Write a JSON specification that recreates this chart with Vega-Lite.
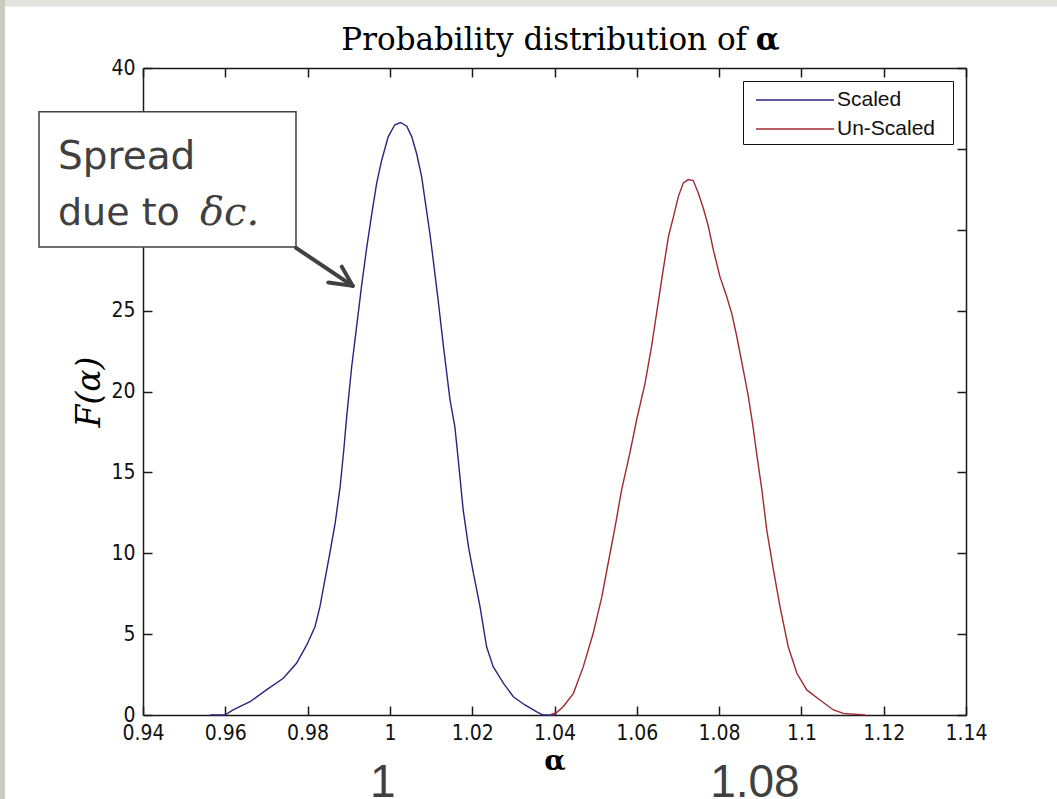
{
  "$schema": "https://vega.github.io/schema/vega-lite/v6.json",
  "width": 823,
  "height": 647,
  "autosize": {"type": "none"},
  "padding": {"left": 143, "top": 68, "right": 91, "bottom": 84},
  "background": "white",
  "config": {
    "view": {"stroke": null},
    "axis": {
      "grid": false,
      "domainColor": "#1a1a1a",
      "tickColor": "#1a1a1a",
      "domainWidth": 1.5,
      "tickWidth": 1.5,
      "tickSize": -9,
      "labelFont": "Liberation Sans Narrow, DejaVu Sans Condensed, Liberation Sans, sans-serif",
      "labelFontSize": 21,
      "labelColor": "#111111",
      "labelFlush": false,
      "labelOverlap": false,
      "zindex": 0
    }
  },
  "data": {"values": [{}]},
  "datasets": {
    "curves": [
      {"s": "Scaled", "a": 0.9563, "F": 0},
      {"s": "Scaled", "a": 0.9599, "F": 0},
      {"s": "Scaled", "a": 0.9619, "F": 0.31},
      {"s": "Scaled", "a": 0.966, "F": 0.82},
      {"s": "Scaled", "a": 0.970, "F": 1.55},
      {"s": "Scaled", "a": 0.9741, "F": 2.27},
      {"s": "Scaled", "a": 0.9773, "F": 3.2},
      {"s": "Scaled", "a": 0.9798, "F": 4.33},
      {"s": "Scaled", "a": 0.9818, "F": 5.46},
      {"s": "Scaled", "a": 0.983, "F": 6.7},
      {"s": "Scaled", "a": 0.9842, "F": 8.35},
      {"s": "Scaled", "a": 0.9854, "F": 10.0},
      {"s": "Scaled", "a": 0.9867, "F": 11.86},
      {"s": "Scaled", "a": 0.9879, "F": 14.1},
      {"s": "Scaled", "a": 0.9888, "F": 16.4},
      {"s": "Scaled", "a": 0.9895, "F": 18.45},
      {"s": "Scaled", "a": 0.9907, "F": 21.5},
      {"s": "Scaled", "a": 0.9919, "F": 24.0},
      {"s": "Scaled", "a": 0.9931, "F": 26.5},
      {"s": "Scaled", "a": 0.9944, "F": 28.96},
      {"s": "Scaled", "a": 0.9956, "F": 31.0},
      {"s": "Scaled", "a": 0.9968, "F": 32.9},
      {"s": "Scaled", "a": 0.998, "F": 34.3},
      {"s": "Scaled", "a": 0.9996, "F": 35.76},
      {"s": "Scaled", "a": 1.0012, "F": 36.49},
      {"s": "Scaled", "a": 1.0026, "F": 36.63},
      {"s": "Scaled", "a": 1.0041, "F": 36.4},
      {"s": "Scaled", "a": 1.0053, "F": 35.76},
      {"s": "Scaled", "a": 1.0065, "F": 34.7},
      {"s": "Scaled", "a": 1.0077, "F": 33.3},
      {"s": "Scaled", "a": 1.0089, "F": 31.2},
      {"s": "Scaled", "a": 1.0097, "F": 29.8},
      {"s": "Scaled", "a": 1.0102, "F": 28.8},
      {"s": "Scaled", "a": 1.0117, "F": 25.7},
      {"s": "Scaled", "a": 1.0131, "F": 22.6},
      {"s": "Scaled", "a": 1.0146, "F": 19.5},
      {"s": "Scaled", "a": 1.0158, "F": 17.8},
      {"s": "Scaled", "a": 1.0166, "F": 15.8},
      {"s": "Scaled", "a": 1.0178, "F": 12.7},
      {"s": "Scaled", "a": 1.0191, "F": 10.4},
      {"s": "Scaled", "a": 1.0203, "F": 8.76},
      {"s": "Scaled", "a": 1.0219, "F": 6.7},
      {"s": "Scaled", "a": 1.0235, "F": 4.22},
      {"s": "Scaled", "a": 1.0251, "F": 2.99},
      {"s": "Scaled", "a": 1.0276, "F": 1.96},
      {"s": "Scaled", "a": 1.030, "F": 1.13},
      {"s": "Scaled", "a": 1.0328, "F": 0.62},
      {"s": "Scaled", "a": 1.0357, "F": 0.2},
      {"s": "Scaled", "a": 1.0372, "F": 0},
      {"s": "Scaled", "a": 1.0405, "F": 0},
      {"s": "Un-Scaled", "a": 1.0388, "F": 0},
      {"s": "Un-Scaled", "a": 1.0405, "F": 0.15},
      {"s": "Un-Scaled", "a": 1.0421, "F": 0.51},
      {"s": "Un-Scaled", "a": 1.0446, "F": 1.34},
      {"s": "Un-Scaled", "a": 1.047, "F": 2.99},
      {"s": "Un-Scaled", "a": 1.0494, "F": 5.05},
      {"s": "Un-Scaled", "a": 1.0515, "F": 7.3},
      {"s": "Un-Scaled", "a": 1.0535, "F": 10.0},
      {"s": "Un-Scaled", "a": 1.0547, "F": 11.6},
      {"s": "Un-Scaled", "a": 1.0563, "F": 13.9},
      {"s": "Un-Scaled", "a": 1.0584, "F": 16.3},
      {"s": "Un-Scaled", "a": 1.06, "F": 18.3},
      {"s": "Un-Scaled", "a": 1.062, "F": 20.5},
      {"s": "Un-Scaled", "a": 1.0636, "F": 22.8},
      {"s": "Un-Scaled", "a": 1.0652, "F": 25.5},
      {"s": "Un-Scaled", "a": 1.0664, "F": 27.5},
      {"s": "Un-Scaled", "a": 1.0677, "F": 29.6},
      {"s": "Un-Scaled", "a": 1.0689, "F": 30.8},
      {"s": "Un-Scaled", "a": 1.0701, "F": 32.05},
      {"s": "Un-Scaled", "a": 1.0713, "F": 32.9},
      {"s": "Un-Scaled", "a": 1.0725, "F": 33.1},
      {"s": "Un-Scaled", "a": 1.0737, "F": 33.04},
      {"s": "Un-Scaled", "a": 1.0749, "F": 32.3},
      {"s": "Un-Scaled", "a": 1.0762, "F": 31.3},
      {"s": "Un-Scaled", "a": 1.0774, "F": 30.2},
      {"s": "Un-Scaled", "a": 1.0786, "F": 28.76},
      {"s": "Un-Scaled", "a": 1.0802, "F": 27.1},
      {"s": "Un-Scaled", "a": 1.0818, "F": 25.9},
      {"s": "Un-Scaled", "a": 1.0831, "F": 24.8},
      {"s": "Un-Scaled", "a": 1.0843, "F": 23.4},
      {"s": "Un-Scaled", "a": 1.0859, "F": 21.3},
      {"s": "Un-Scaled", "a": 1.0871, "F": 19.7},
      {"s": "Un-Scaled", "a": 1.0882, "F": 17.9},
      {"s": "Un-Scaled", "a": 1.0891, "F": 16.2},
      {"s": "Un-Scaled", "a": 1.0904, "F": 13.9},
      {"s": "Un-Scaled", "a": 1.0916, "F": 11.4},
      {"s": "Un-Scaled", "a": 1.0932, "F": 8.97},
      {"s": "Un-Scaled", "a": 1.0948, "F": 6.7},
      {"s": "Un-Scaled", "a": 1.0968, "F": 4.22},
      {"s": "Un-Scaled", "a": 1.0989, "F": 2.58},
      {"s": "Un-Scaled", "a": 1.1013, "F": 1.55},
      {"s": "Un-Scaled", "a": 1.1045, "F": 0.93},
      {"s": "Un-Scaled", "a": 1.1078, "F": 0.31},
      {"s": "Un-Scaled", "a": 1.1102, "F": 0.1},
      {"s": "Un-Scaled", "a": 1.1155, "F": 0}
    ]
  },
  "layer": [
    {
      "mark": {"type": "rect", "color": "#c9cac2"},
      "encoding": {
        "x": {"datum": 0.89, "type": "quantitative", "axis": null, "scale": {"domain": [0.94, 1.14], "nice": false}},
        "x2": {"datum": 0.90646},
        "y": {"datum": 44.3, "type": "quantitative", "axis": null, "scale": {"domain": [0, 40], "nice": false}},
        "y2": {"datum": -10}
      }
    },
    {
      "mark": {"type": "rect", "color": "#e3e3de"},
      "encoding": {
        "x": {"datum": 0.90646, "type": "quantitative", "axis": null, "scale": {"domain": [0.94, 1.14], "nice": false}},
        "x2": {"datum": 1.2},
        "y": {"datum": 44.3, "type": "quantitative", "axis": null, "scale": {"domain": [0, 40], "nice": false}},
        "y2": {"datum": 43.78}
      }
    },
    {
      "mark": {"type": "text", "text": "Probability distribution of", "align": "right", "baseline": "alphabetic", "font": "DejaVu Serif", "fontSize": 31, "color": "#000000"},
      "encoding": {
        "x": {"datum": 1.0868, "type": "quantitative", "axis": null, "scale": {"domain": [0.94, 1.14], "nice": false}},
        "y": {"datum": 41.11, "type": "quantitative", "axis": null, "scale": {"domain": [0, 40], "nice": false}}
      }
    },
    {
      "mark": {"type": "text", "text": "α", "align": "left", "baseline": "alphabetic", "font": "DejaVu Serif", "fontWeight": "bold", "fontSize": 31, "color": "#000000"},
      "encoding": {
        "x": {"datum": 1.0889, "type": "quantitative", "axis": null, "scale": {"domain": [0.94, 1.14], "nice": false}},
        "y": {"datum": 41.11, "type": "quantitative", "axis": null, "scale": {"domain": [0, 40], "nice": false}}
      }
    },
    {
      "data": {"name": "curves"},
      "mark": {"type": "line", "strokeWidth": 1.4, "clip": false},
      "encoding": {
        "x": {
          "field": "a", "type": "quantitative",
          "scale": {"domain": [0.94, 1.14], "nice": false, "zero": false},
          "axis": {
            "orient": "bottom",
            "values": [0.94, 0.96, 0.98, 1.0, 1.02, 1.04, 1.06, 1.08, 1.1, 1.12, 1.14],
            "format": ".3~g",
            "labelPadding": 16,
            "title": "α",
            "titleFont": "DejaVu Serif",
            "titleFontWeight": "bold",
            "titleFontSize": 28,
            "titleColor": "#000000",
            "titlePadding": 4
          }
        },
        "y": {
          "field": "F", "type": "quantitative",
          "scale": {"domain": [0, 40], "nice": false},
          "axis": {
            "orient": "left",
            "values": [0, 5, 10, 15, 20, 25, 30, 35, 40],
            "labelPadding": 17,
            "title": "F(α)",
            "titleFont": "DejaVu Serif",
            "titleFontStyle": "italic",
            "titleFontWeight": "normal",
            "titleFontSize": 33,
            "titleColor": "#000000",
            "titlePadding": 4
          }
        },
        "color": {
          "field": "s", "type": "nominal",
          "scale": {"domain": ["Scaled", "Un-Scaled"], "range": ["#26267e", "#a02a32"]},
          "legend": {
            "title": " ",
            "titleOrient": "right",
            "titlePadding": 13,
            "titleFontSize": 8,
            "orient": "top-right",
            "offset": 13,
            "fillColor": "white",
            "strokeColor": "#111111",
            "padding": 5,
            "rowPadding": 5,
            "symbolType": "M-3,0H3",
            "symbolSize": 676,
            "symbolStrokeWidth": 1.5,
            "symbolOffset": 33,
            "labelOffset": 28,
            "labelFont": "Liberation Sans",
            "labelFontSize": 21,
            "labelColor": "#111111"
          }
        }
      }
    },
    {
      "data": {"name": "curves"},
      "mark": {"type": "point", "opacity": 0, "size": 0},
      "encoding": {
        "x": {
          "field": "a", "type": "quantitative",
          "scale": {"domain": [0.94, 1.14], "nice": false, "zero": false},
          "axis": {"orient": "top", "values": [0.94, 0.96, 0.98, 1.0, 1.02, 1.04, 1.06, 1.08, 1.1, 1.12, 1.14], "labels": false, "title": null}
        },
        "y": {
          "field": "F", "type": "quantitative",
          "scale": {"domain": [0, 40], "nice": false},
          "axis": {"orient": "right", "values": [0, 5, 10, 15, 20, 25, 30, 35, 40], "labels": false, "title": null}
        }
      }
    },
    {
      "mark": {"type": "rect", "fill": "white", "stroke": "#404040", "strokeWidth": 1.5},
      "encoding": {
        "x": {"datum": 0.91473, "type": "quantitative", "axis": null, "scale": {"domain": [0.94, 1.14], "nice": false}},
        "x2": {"datum": 0.97718},
        "y": {"datum": 37.29, "type": "quantitative", "axis": null, "scale": {"domain": [0, 40], "nice": false}},
        "y2": {"datum": 28.94}
      }
    },
    {
      "mark": {"type": "text", "text": "Spread", "align": "left", "baseline": "alphabetic", "font": "DejaVu Sans", "fontSize": 39, "color": "#404040"},
      "encoding": {
        "x": {"datum": 0.91934, "type": "quantitative", "axis": null, "scale": {"domain": [0.94, 1.14], "nice": false}},
        "y": {"datum": 33.75, "type": "quantitative", "axis": null, "scale": {"domain": [0, 40], "nice": false}}
      }
    },
    {
      "mark": {"type": "text", "text": "due to", "align": "left", "baseline": "alphabetic", "font": "DejaVu Sans", "fontSize": 38, "color": "#404040"},
      "encoding": {
        "x": {"datum": 0.91934, "type": "quantitative", "axis": null, "scale": {"domain": [0.94, 1.14], "nice": false}},
        "y": {"datum": 30.3, "type": "quantitative", "axis": null, "scale": {"domain": [0, 40], "nice": false}}
      }
    },
    {
      "mark": {"type": "text", "text": "δc.", "align": "left", "baseline": "alphabetic", "font": "DejaVu Serif", "fontStyle": "italic", "fontSize": 40, "color": "#404040"},
      "encoding": {
        "x": {"datum": 0.95385, "type": "quantitative", "axis": null, "scale": {"domain": [0.94, 1.14], "nice": false}},
        "y": {"datum": 30.3, "type": "quantitative", "axis": null, "scale": {"domain": [0, 40], "nice": false}}
      }
    },
    {
      "mark": {"type": "rule", "color": "#404040", "strokeWidth": 4, "strokeCap": "round"},
      "encoding": {
        "x": {"datum": 0.97718, "type": "quantitative", "axis": null, "scale": {"domain": [0.94, 1.14], "nice": false}},
        "x2": {"datum": 0.99096},
        "y": {"datum": 28.88, "type": "quantitative", "axis": null, "scale": {"domain": [0, 40], "nice": false}},
        "y2": {"datum": 26.53}
      }
    },
    {
      "mark": {"type": "rule", "color": "#404040", "strokeWidth": 4, "strokeCap": "round"},
      "encoding": {
        "x": {"datum": 0.98503, "type": "quantitative", "axis": null, "scale": {"domain": [0.94, 1.14], "nice": false}},
        "x2": {"datum": 0.99096},
        "y": {"datum": 26.74, "type": "quantitative", "axis": null, "scale": {"domain": [0, 40], "nice": false}},
        "y2": {"datum": 26.53}
      }
    },
    {
      "mark": {"type": "rule", "color": "#404040", "strokeWidth": 4, "strokeCap": "round"},
      "encoding": {
        "x": {"datum": 0.98829, "type": "quantitative", "axis": null, "scale": {"domain": [0.94, 1.14], "nice": false}},
        "x2": {"datum": 0.99096},
        "y": {"datum": 27.72, "type": "quantitative", "axis": null, "scale": {"domain": [0, 40], "nice": false}},
        "y2": {"datum": 26.53}
      }
    },
    {
      "mark": {"type": "text", "text": "1", "align": "center", "baseline": "alphabetic", "font": "Liberation Sans", "fontSize": 46, "color": "#404040"},
      "encoding": {
        "x": {"datum": 0.9983, "type": "quantitative", "axis": null, "scale": {"domain": [0.94, 1.14], "nice": false}},
        "y": {"datum": -5.07, "type": "quantitative", "axis": null, "scale": {"domain": [0, 40], "nice": false}}
      }
    },
    {
      "mark": {"type": "text", "text": "1.08", "align": "center", "baseline": "alphabetic", "font": "Liberation Sans", "fontSize": 46, "color": "#404040"},
      "encoding": {
        "x": {"datum": 1.0887, "type": "quantitative", "axis": null, "scale": {"domain": [0.94, 1.14], "nice": false}},
        "y": {"datum": -5.07, "type": "quantitative", "axis": null, "scale": {"domain": [0, 40], "nice": false}}
      }
    }
  ],
  "resolve": {"axis": {"x": "independent", "y": "independent"}}
}
